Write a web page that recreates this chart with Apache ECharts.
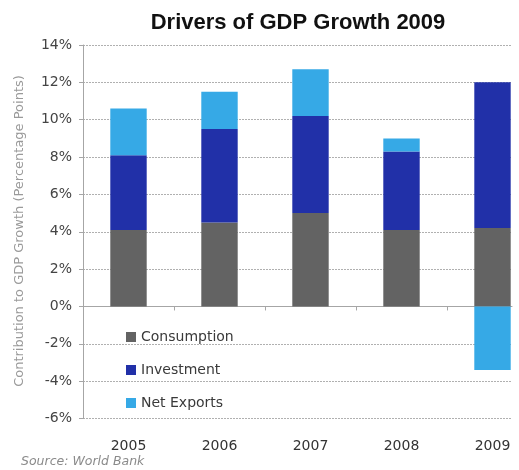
<!DOCTYPE html>
<html><head><meta charset="utf-8">
<script src="https://cdn.jsdelivr.net/npm/echarts@6/dist/echarts.min.js"></script>
<style>html,body{margin:0;padding:0;background:#fff}#c{width:519px;height:470px}</style>
</head><body><div id="c"></div>
<script>
const years = ['2005','2006','2007','2008','2009'];
const consumption = [4.1, 4.5, 5.0, 4.1, 4.2];
const investment = [4.0, 5.0, 5.2, 4.2, 7.8];
const netExports = [2.5, 2.0, 2.5, 0.7, -3.4];
const yTicks = {min: -6, max: 14, step: 2};
const seriesNames = ['Consumption', 'Investment', 'Net Exports'];
const colors = ['#636363', '#2130a8', '#36a9e6'];

const chart = echarts.init(document.getElementById('c'), null, {renderer: 'canvas'});
const F = 'DejaVu Sans';
const gridTop = 45, gridBottom = 51.5, gridLeft = 83;
chart.setOption({
  animation: false,
  backgroundColor: '#ffffff',
  title: {
    text: 'Drivers of GDP Growth 2009',
    left: 293, textAlign: 'center', top: 7,
    textStyle: {fontFamily: 'Liberation Sans', fontWeight: 900, fontSize: 22, color: '#111'}
  },
  legend: {
    data: seriesNames, orient: 'vertical', left: 121, top: 325,
    icon: 'rect', itemWidth: 10, itemHeight: 10, itemGap: 19,
    textStyle: {fontFamily: F, fontSize: 14, color: '#3a3a3a'}
  },
  grid: [
    {left: gridLeft, right: 7, top: gridTop, bottom: gridBottom, outerBoundsMode: 'none', containLabel: false},
    {left: gridLeft, width: 455, top: gridTop, bottom: gridBottom, outerBoundsMode: 'none', containLabel: false}
  ],
  xAxis: [
    {type: 'category', gridIndex: 0, data: years, show: true,
     axisLine: {show: true, onZero: true, lineStyle: {color: '#a6a6a6', width: 1}},
     axisTick: {show: false}, axisLabel: {show: false}, splitLine: {show: false}},
    {type: 'category', gridIndex: 1, data: years,
     axisLine: {show: false, onZero: true},
     axisTick: {show: true, length: 4, lineStyle: {color: '#a6a6a6'}},
     axisLabel: {show: false}, splitLine: {show: false}},
    {type: 'category', gridIndex: 1, data: years, position: 'bottom',
     axisLine: {show: false, onZero: false}, axisTick: {show: false},
     axisLabel: {show: true, margin: 21, fontFamily: F, fontSize: 14, color: '#333'}}
  ],
  yAxis: [
    {type: 'value', gridIndex: 0, min: yTicks.min, max: yTicks.max, interval: yTicks.step,
     axisLine: {show: true, lineStyle: {color: '#a6a6a6'}},
     axisTick: {show: true, length: 4, lineStyle: {color: '#a6a6a6'}},
     axisLabel: {formatter: '{value}%', fontFamily: F, fontSize: 14, color: '#444', margin: 11},
     splitLine: {show: true, lineStyle: {type: [2, 1], color: '#b0b0b0', width: 1}}},
    {type: 'value', gridIndex: 1, min: yTicks.min, max: yTicks.max, interval: yTicks.step,
     show: false, splitLine: {show: false}}
  ],
  graphic: [
    {type: 'text', x: 20, y: 231, rotation: Math.PI / 2,
     style: {text: 'Contribution to GDP Growth (Percentage Points)', fontFamily: F, fontSize: 13,
       fill: '#9a9a9a', align: 'center', verticalAlign: 'middle'}},
    {type: 'text', left: 21, top: 455,
     style: {text: 'Source: World Bank', fontFamily: F, fontStyle: 'italic', fontSize: 12.5, fill: '#8a8a8a'}}
  ],
  series: [
    {name: seriesNames[0], type: 'bar', stack: 'g', xAxisIndex: 1, yAxisIndex: 1, data: consumption,
     barWidth: '40%', itemStyle: {color: colors[0]}},
    {name: seriesNames[1], type: 'bar', stack: 'g', xAxisIndex: 1, yAxisIndex: 1, data: investment,
     barWidth: '40%', itemStyle: {color: colors[1]}},
    {name: seriesNames[2], type: 'bar', stack: 'g', xAxisIndex: 1, yAxisIndex: 1, data: netExports,
     barWidth: '40%', itemStyle: {color: colors[2]}}
  ]
});
</script></body></html>
